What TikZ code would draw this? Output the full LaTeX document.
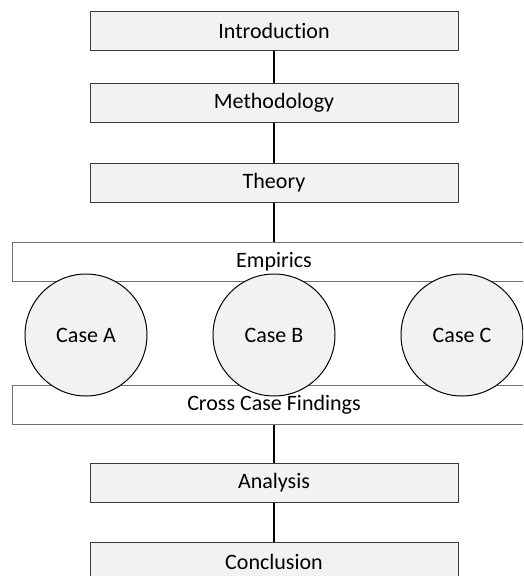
\documentclass[tikz,border=0pt]{standalone}
\usepackage{fontspec}
\setmainfont{Carlito}[Ligatures={NoCommon}]
\definecolor{boxfill}{HTML}{F2F2F2}
\definecolor{boxline}{HTML}{3A3A3A}
\definecolor{bandline}{HTML}{707070}
\begin{document}
\begin{tikzpicture}[x=1pt,y=-1pt,
  stagebox/.style={draw=boxline,line width=1pt,fill=boxfill,minimum width=368pt,minimum height=39pt,inner sep=0pt,font=\fontsize{22}{25}\selectfont},
  bandbox/.style={draw=bandline,line width=1pt,fill=white,minimum width=523pt,minimum height=38.5pt,inner sep=0pt,font=\fontsize{22}{25}\selectfont},
  casecircle/.style={circle,draw=black,line width=1pt,fill=boxfill,minimum size=122pt,inner sep=0pt,font=\fontsize{22}{25}\selectfont},
  link/.style={draw=black,line width=1.4pt}]
\useasboundingbox (0,0) rectangle (523,576);
\clip (0,0) rectangle (523,576);
% main sequence of chapters
\node[stagebox] (intro) at (274,30.5) {Introduction};
\node[stagebox] (meth) at (274,102.5) {Methodology};
\node[stagebox] (theory) at (274,182.5) {Theory};
\node[bandbox] (emp) at (274,262) {Empirics};
\node[bandbox] (cross) at (274,405) {Cross Case Findings};
\node[stagebox] (analysis) at (274,482.5) {Analysis};
\node[stagebox] (concl) at (274,561.5) {Conclusion};
% the three cases overlap the two bands
\node[casecircle] (caseA) at (86,335) {Case A};
\node[casecircle] (caseB) at (274,335) {Case B};
\node[casecircle] (caseC) at (462,335) {Case C};
% connectors
\draw[link] (intro.south) -- (meth.north);
\draw[link] (meth.south) -- (theory.north);
\draw[link] (theory.south) -- (emp.north);
\draw[link] (cross.south) -- (analysis.north);
\draw[link] (analysis.south) -- (concl.north);
\end{tikzpicture}
\end{document}
